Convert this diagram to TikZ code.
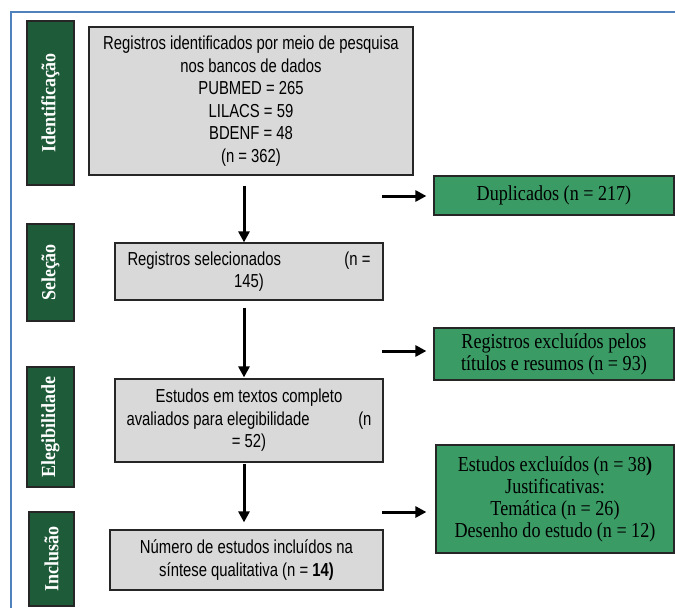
\documentclass[tikz,border=0pt]{standalone}
\usepackage{fontspec}
\setmainfont{Liberation Serif}
\newfontfamily\grayfont[FakeStretch=0.79]{Liberation Sans}
\newfontfamily\greenfont[FakeStretch=0.85]{Liberation Serif}
\newfontfamily\phasefont[FakeStretch=0.9]{Liberation Serif}
\usetikzlibrary{arrows.meta}

\definecolor{phasegreen}{HTML}{1E5B39}
\definecolor{exclgreen}{HTML}{3A9B65}
\definecolor{stepgray}{HTML}{D9D9D9}
\definecolor{framecol}{HTML}{4F81BD}

\begin{document}
\begin{tikzpicture}[x=1pt,y=-1pt,
  phasebox/.style={draw=black!85, fill=phasegreen, text=white, rotate=90,
    line width=1.2pt, inner sep=0pt,
    font=\phasefont\fontsize{20}{22}\selectfont\bfseries},
  graybox/.style={draw=black!85, fill=stepgray, line width=1.2pt,
    inner sep=0pt, align=center,
    font=\grayfont\fontsize{18.8}{22.5}\selectfont},
  greenbox/.style={draw=black!85, fill=exclgreen, line width=1.2pt,
    inner sep=0pt, align=center,
    font=\greenfont\fontsize{21.3}{22}\selectfont},
  flow/.style={line width=3pt, -{Triangle[width=11pt,length=11pt]}}]
\useasboundingbox (0,0) rectangle (675,608);
\fill [white] (0,0) rectangle (675,608);
\draw [draw=framecol, line width=1.5pt] (11,608) -- (11,12) -- (675,12);

% phases
\node [phasebox, minimum width=164pt, minimum height=47pt] (ident) at (50.5,103)
  {Identificação};
\node [phasebox, minimum width=97pt, minimum height=47pt] (selc) at (50.5,272.5)
  {Seleção};
\node [phasebox, minimum width=120pt, minimum height=47pt] (elegb) at (50.5,427)
  {Elegibilidade};
\node [phasebox, minimum width=94pt, minimum height=45pt] (inclu) at (51.5,559)
  {Inclusão};

% steps
\node [graybox, minimum width=324pt, minimum height=148pt] (reg) at (251,101)
  {Registros identificados por meio de pesquisa\\nos bancos de dados\\
   PUBMED = 265\\LILACS = 59\\BDENF = 48\\(n = 362)};
\node [graybox, minimum width=268pt, minimum height=57pt] (selec) at (249,271.5)
  {\makebox[243pt]{Registros selecionados\hfill(n =}\\145)};
\node [graybox, minimum width=268pt, minimum height=83pt] (elig) at (249,420.5)
  {Estudos em textos completo\\
   \makebox[245pt]{avaliados para elegibilidade\hfill(n}\\= 52)};
\node [graybox, minimum width=273pt, minimum height=60pt] (incl) at (246.5,560)
  {Número de estudos incluídos na\\síntese qualitativa (n = \textbf{14)}};

% exclusions
\node [greenbox, minimum width=240pt, minimum height=39pt] (dup) at (554,195.5)
  {Duplicados (n = 217)};
\node [greenbox, minimum width=240pt, minimum height=52pt] (excla) at (554,354)
  {Registros excluídos pelos\\títulos e resumos (n = 93)};
\node [greenbox, minimum width=238pt, minimum height=108pt] (exclb) at (555,499)
  {Estudos excluídos (n = 38\textbf{)}\\Justificativas:\\Temática (n = 26)\\
   Desenho do estudo (n = 12)};

% arrows
\coordinate (col) at (244,0);
\draw [flow, shorten <=10pt] (reg.south -| col) -- (selec.north -| col);
\draw [flow, shorten <=7pt, shorten >=1pt] (selec.south -| col) -- (elig.north -| col);
\draw [flow, shorten <=1pt, shorten >=7pt] (elig.south -| col) -- (incl.north -| col);

\coordinate (da) at (382,196);
\coordinate (db) at (382,351);
\coordinate (dc) at (382,512);
\draw [flow, shorten >=7pt] (da) -- (da -| dup.west);
\draw [flow, shorten >=7pt] (db) -- (db -| excla.west);
\draw [flow, shorten >=9pt] (dc) -- (dc -| exclb.west);
\end{tikzpicture}
\end{document}
